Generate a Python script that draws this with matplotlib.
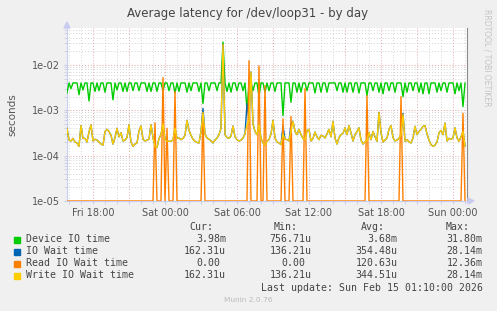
import matplotlib
matplotlib.use("Agg")

import matplotlib.dates as mdates
import matplotlib.pyplot as plt
import numpy as np
import pandas as pd
from matplotlib.patches import Polygon, Rectangle
from matplotlib.ticker import FuncFormatter, LogLocator, NullFormatter

# 10-minute samples, Fri 2026-02-13 15:50 onwards, values in microseconds
start_time = "2026-02-13 15:50"
x_end = "2026-02-15 01:10"

device_io_us = [
    2400, 4000, 3000, 4000, 4000, 4000, 2200, 4000, 2800, 4000,
    4000, 1600, 4000, 4000, 2600, 4000, 2700, 4000, 4000, 2500,
    4000, 4000, 4000, 1700, 4000, 2800, 4000, 4000, 2600, 4000,
    2600, 4000, 4000, 2700, 4000, 4000, 2700, 4000, 4000, 4000,
    2600, 4000, 2600, 4000, 4000, 2600, 4000, 4000, 2700, 4000,
    4000, 2700, 4000, 4000, 2400, 4000, 2600, 4000, 4000, 4000,
    2500, 4000, 2700, 4000, 4000, 4000, 2600, 4000, 1400, 4000,
    4000, 2700, 4000, 4000, 4000, 2700, 4000, 4000, 31800, 4000,
    2600, 4000, 2500, 4000, 4000, 2700, 4000, 4000, 2700, 4000,
    1000, 4000, 4000, 2700, 4000, 4000, 2000, 4000, 4000, 2500,
    4000, 2700, 4000, 4000, 2600, 4000, 4000, 4000, 760, 4000,
    4000, 4000, 1500, 4000, 4000, 2500, 4000, 2500, 4000, 4000,
    2700, 4000, 4000, 4000, 2400, 4000, 4000, 2500, 4000, 4000,
    2500, 4000, 4000, 4000, 4000, 2700, 4000, 4000, 2500, 4000,
    2500, 4000, 4000, 2500, 4000, 4000, 2400, 4000, 4000, 4000,
    2100, 4000, 4000, 2700, 4000, 4000, 2500, 4000, 2300, 4000,
    4000, 2700, 4000, 4000, 2500, 4000, 4000, 4000, 2000, 4000,
    2500, 4000, 4000, 2700, 4000, 4000, 2500, 4000, 2300, 4000,
    4000, 2300, 4000, 4000, 4000, 2500, 4000, 2700, 4000, 4000,
    2500, 4000, 4000, 4000, 2300, 4000, 2700, 4000, 1200, 3980,
]

write_wait_us = [
    400, 220, 210, 240, 200, 190, 160, 460, 240, 240,
    200, 330, 480, 210, 230, 220, 200, 180, 170, 340,
    380, 340, 280, 180, 250, 400, 260, 320, 210, 220,
    250, 480, 200, 160, 180, 190, 350, 450, 230, 210,
    220, 230, 480, 250, 160, 150, 240, 290, 500, 225,
    210, 207, 207, 220, 400, 240, 245, 225, 240, 280,
    600, 360, 280, 230, 207, 195, 190, 340, 900, 300,
    245, 230, 210, 190, 220, 245, 290, 400, 28140, 290,
    250, 240, 270, 450, 260, 225, 210, 220, 245, 300,
    480, 600, 7000, 500, 340, 290, 480, 245, 190, 170,
    207, 225, 300, 600, 245, 200, 190, 175, 300, 230,
    225, 210, 350, 570, 340, 290, 380, 290, 240, 225,
    350, 380, 210, 240, 330, 260, 225, 280, 270, 245,
    300, 380, 260, 570, 245, 180, 250, 290, 310, 410,
    290, 460, 320, 210, 290, 340, 410, 220, 180, 200,
    210, 320, 225, 340, 260, 207, 900, 320, 200, 220,
    245, 380, 460, 250, 210, 220, 240, 290, 800, 207,
    225, 200, 190, 245, 440, 290, 340, 380, 440, 460,
    300, 220, 175, 160, 170, 200, 320, 360, 290, 520,
    210, 240, 230, 245, 410, 245, 207, 260, 340, 162,
]

# read wait is zero except for these samples (index: microseconds)
read_wait_spikes_us = {
    44: 530, 48: 5300, 50: 400, 54: 2600, 68: 720, 91: 12360,
    96: 9500, 99: 3500, 108: 650, 112: 730, 119: 3000, 150: 2100,
    167: 2000, 198: 860,
}
# total io wait follows write wait except at these samples
io_wait_extra_us = {68: 1100, 90: 1400, 108: 450, 112: 500, 168: 850}

legend_labels = ["Device IO time", "IO Wait time", "Read IO Wait time", "Write IO Wait time"]
legend_colors = ["#00CC00", "#0066B3", "#FF8000", "#FFCC00"]
cur_vals = ["3.98m", "162.31u", "0.00", "162.31u"]
min_vals = ["756.71u", "136.21u", "0.00", "136.21u"]
avg_vals = ["3.68m", "354.48u", "120.63u", "344.51u"]
max_vals = ["31.80m", "28.14m", "12.36m", "28.14m"]

W, H = 497, 311


def fx(px):
    return px / W


def fy(py):
    return 1 - py / H


times = pd.date_range(start_time, periods=len(device_io_us), freq="10min")

read_wait_us = [read_wait_spikes_us.get(i, 0) for i in range(len(times))]
io_wait_us = [io_wait_extra_us.get(i, v) for i, v in enumerate(write_wait_us)]

y_bottom, y_top = 1e-5, 6.5e-2

fig = plt.figure(figsize=(W / 100, H / 100), dpi=100, facecolor="#F0F0F0")
ax = fig.add_axes([fx(67), fy(201), 400 / W, 173 / H])
ax.set_facecolor("white")

series = [device_io_us, io_wait_us, read_wait_us, write_wait_us]
for values, color in zip(series, legend_colors):
    y = np.clip(np.asarray(values, dtype=float) * 1e-6, y_bottom, None)
    ax.plot(times, y, color=color, lw=1.0, zorder=3)

ax.set_yscale("log")
ax.set_ylim(y_bottom, y_top)
ax.set_xlim(pd.Timestamp(start_time), pd.Timestamp(x_end))

ax.yaxis.set_major_locator(LogLocator(base=10, numticks=10))
ax.yaxis.set_minor_locator(LogLocator(base=10, subs=np.arange(2, 10), numticks=20))
ax.yaxis.set_major_formatter(FuncFormatter(lambda v, pos: f"{v:.0e}"))
ax.yaxis.set_minor_formatter(NullFormatter())

ax.xaxis.set_major_locator(mdates.HourLocator(byhour=range(0, 24, 3)))
ax.xaxis.set_minor_locator(mdates.HourLocator(interval=1))
ax.xaxis.set_major_formatter(
    FuncFormatter(
        lambda v, pos: mdates.num2date(v).strftime("%a %H:%M")
        if mdates.num2date(v).hour % 6 == 0 else ""
    )
)

dots = (0, (1.0, 2.0))
ax.grid(which="minor", color="#D4D4D4", lw=0.7, ls=dots)
ax.grid(which="major", color="#E4A4A4", lw=0.7, ls=dots)
ax.set_axisbelow(True)

ax.tick_params(which="both", length=2, color="#C8CCE8", labelsize=7,
               labelcolor="#555555", pad=3)

ax.spines["top"].set_visible(False)
ax.spines["right"].set_color("#8A8A8A")
ax.spines["left"].set_color("#C8CCEE")
ax.spines["bottom"].set_color("#C8CCEE")

# axis arrow heads
fig.patches.append(Polygon([[fx(64), fy(28)], [fx(70), fy(28)], [fx(67), fy(22)]],
                           closed=True, color="#C8CCEE", transform=fig.transFigure))
fig.patches.append(Polygon([[fx(468), fy(198)], [fx(468), fy(204)], [fx(474), fy(201)]],
                           closed=True, color="#C8CCEE", transform=fig.transFigure))

fig.text(fx(248), fy(14), "Average latency for /dev/loop31 - by day",
         ha="center", va="center", fontsize=8.5, color="#444444")
fig.text(fx(12), fy(115), "seconds", rotation=90, ha="center", va="center",
         fontsize=7.5, color="#555555")
fig.text(fx(487), fy(58), "RRDTOOL / TOBI OETIKER", rotation=270, ha="center",
         va="center", fontsize=5.5, color="#C4C4C4")

mono = dict(family="DejaVu Sans Mono", fontsize=7.1, color="#444444", va="center")
for label, x_right in zip(["Cur:", "Min:", "Avg:", "Max:"], [213, 298, 385, 470]):
    fig.text(fx(x_right), fy(227.5), label, ha="right", **mono)

col_edges = [226, 311.7, 397.3, 482.7]
for row, (label, color) in enumerate(zip(legend_labels, legend_colors)):
    yc = 239.5 + 12 * row
    fig.patches.append(Rectangle((fx(14), fy(yc + 3)), 6 / W, 6 / H, color=color,
                                 transform=fig.transFigure))
    fig.text(fx(26), fy(yc), label, ha="left", **mono)
    for col, vals in enumerate([cur_vals, min_vals, avg_vals, max_vals]):
        text = vals[row]
        edge = col_edges[col]
        if text[-1].isdigit():
            edge -= 6
        fig.text(fx(edge), fy(yc), text, ha="right", **mono)

fig.text(fx(482.7), fy(287.7), "Last update: Sun Feb 15 01:10:00 2026", ha="right", **mono)
fig.text(fx(248), fy(300), "Munin 2.0.76", ha="center", va="center", fontsize=5.3,
         color="#BBBBBB")

fig.savefig("out.png", dpi=100, facecolor=fig.get_facecolor())
plt.close(fig)
